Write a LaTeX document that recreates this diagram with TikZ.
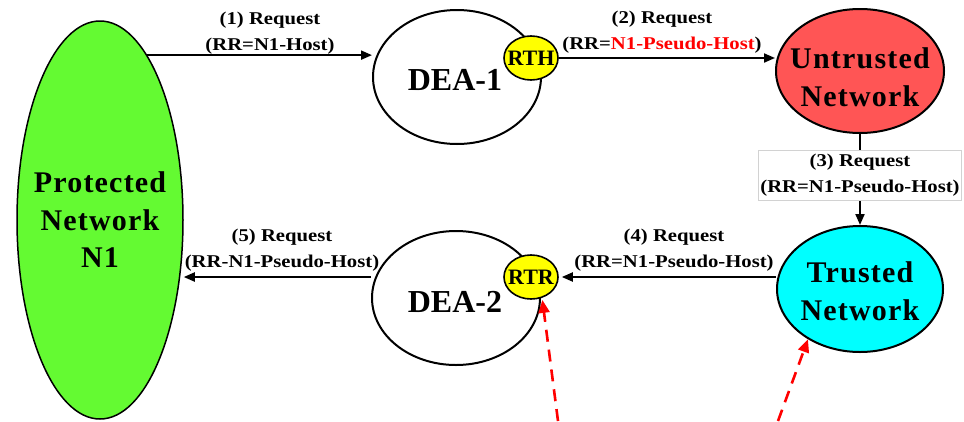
\documentclass[tikz,border=0pt]{standalone}
\usepackage{fontspec}
\setmainfont{Liberation Serif}
\newfontfamily\bigfont{Liberation Serif}[LetterSpace=4]
\newfontfamily\labfont{Liberation Serif}[FakeStretch=1.15]
\usetikzlibrary{shapes.geometric,arrows.meta}
\definecolor{protgreen}{RGB}{100,250,50}
\definecolor{untred}{RGB}{255,85,85}
\definecolor{trucyan}{RGB}{0,255,255}
\definecolor{rtyellow}{RGB}{255,255,0}
\begin{document}
\begin{tikzpicture}[x=1pt,y=-1pt,
  net/.style={ellipse, draw=black, line width=2pt, inner sep=0pt},
  rt/.style={ellipse, draw=black, line width=1.6pt, fill=rtyellow, inner sep=0pt, minimum width=54pt, minimum height=44pt},
  rtt/.style={inner sep=0pt, font=\bfseries\fontsize{22}{24}\selectfont},
  bigtxt/.style={align=center, inner sep=0pt, font=\bigfont\bfseries\fontsize{30}{37.5}\selectfont},
  deatxt/.style={inner sep=0pt, font=\bfseries\fontsize{32}{36}\selectfont},
  lab/.style={align=center, inner sep=0pt, font=\labfont\bfseries\fontsize{18}{25.5}\selectfont},
  flow/.style={line width=2pt, -{Triangle[length=11pt,width=9pt]}},
  redflow/.style={draw=red, line width=2.6pt, dash pattern=on 12pt off 8pt, -{Triangle[length=13pt,width=11pt,fill=red]}}
]
\useasboundingbox (0,0) rectangle (964,421);
\fill[white] (0,0) rectangle (964,421);

% networks
\node[net, fill=protgreen, line width=1.5pt, minimum width=166pt, minimum height=398pt] (prot) at (100,220) {};
\node[bigtxt] (protT) at (100,220) {Protected\\Network\\N1};

\node[net, minimum width=168pt, minimum height=134pt] (dea1) at (457,77) {};
\node[deatxt] (dea1T) at (455,80) {DEA-1};
\node[net, minimum width=168pt, minimum height=134pt] (dea2) at (456,298) {};
\node[deatxt] (dea2T) at (455,302) {DEA-2};

\node[rt] (rth) at (531,58) {};
\node[rtt] (rthT) at (531,58) {RTH};
\node[rt] (rtr) at (531,277) {};
\node[rtt] (rtrT) at (531,277) {RTR};

\node[net, fill=untred, minimum width=168pt, minimum height=124pt] (unt) at (860,71) {};
\node[bigtxt] (untT) at (860,77) {Untrusted\\Network};
\node[net, fill=trucyan, minimum width=166pt, minimum height=126pt] (tru) at (860,289) {};
\node[bigtxt] (truT) at (860,291) {Trusted\\Network};

% flows
\draw[flow] (prot.74) -- (prot.74 -| dea1.west);
\node[lab] (l1) at (270,33) {(1) Request\\(RR=N1-Host)};

\draw[flow] (rth.east) -- (rth.east -| unt.west);
\node[lab] (l2) at (662,32) {(2) Request\\(RR=\textcolor{red}{N1-Pseudo-Host})};

\draw[flow] (unt.south) -- node[lab, pos=0.45, fill=white, draw=gray!35, line width=0.6pt, inner xsep=2pt, minimum height=50pt] (l3) {(3) Request\\(RR=N1-Pseudo-Host)} (tru.north);

\draw[flow, shorten >=3pt] (rtr.east -| tru.west) -- (rtr.east);
\node[lab] (l4) at (674,250) {(4) Request\\(RR=N1-Pseudo-Host)};

\draw[flow] (rtr.west -| dea2.west) -- (rtr.west -| prot.east);
\node[lab] (l5) at (282,250) {(5) Request\\(RR-N1-Pseudo-Host)};

% red dashed arrows
\coordinate (r1) at (558,421);
\coordinate (r2) at (778,421);
\draw[redflow, shorten >=2pt] (r1) -- (rtr.-62);
\draw[redflow] (r2) -- (tru.224);
\end{tikzpicture}
\end{document}
